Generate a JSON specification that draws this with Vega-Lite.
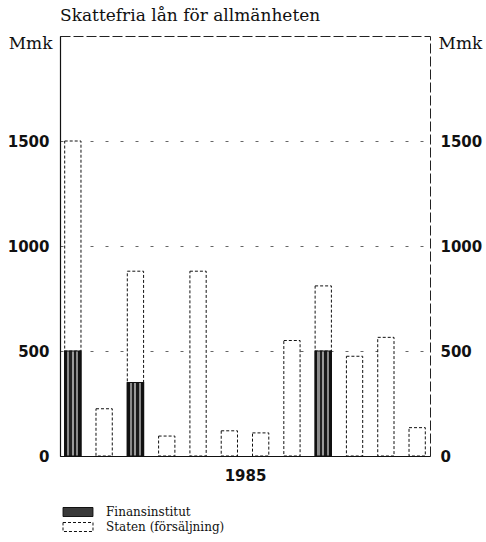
{
  "$schema": "https://vega.github.io/schema/vega-lite/v6.json",
  "autosize": "none",
  "width": 370,
  "height": 420,
  "padding": {"left": 60, "top": 36, "right": 56, "bottom": 86},
  "background": "white",
  "title": {
    "text": "Skattefria lån för allmänheten",
    "anchor": "start",
    "frame": "group",
    "font": "DejaVu Serif",
    "fontSize": 17,
    "fontWeight": "normal",
    "color": "#111",
    "baseline": "alphabetic",
    "offset": -4
  },
  "config": {
    "view": {"stroke": "#222", "strokeWidth": 1, "strokeDash": [10, 3]}
  },
  "data": {
    "values": [
      {"manad": 1, "serie": "Finansinstitut", "mmk": 500},
      {"manad": 1, "serie": "Staten (försäljning)", "mmk": 1000},
      {"manad": 2, "serie": "Staten (försäljning)", "mmk": 225},
      {"manad": 3, "serie": "Finansinstitut", "mmk": 350},
      {"manad": 3, "serie": "Staten (försäljning)", "mmk": 530},
      {"manad": 4, "serie": "Staten (försäljning)", "mmk": 95},
      {"manad": 5, "serie": "Staten (försäljning)", "mmk": 880},
      {"manad": 6, "serie": "Staten (försäljning)", "mmk": 120},
      {"manad": 7, "serie": "Staten (försäljning)", "mmk": 110},
      {"manad": 8, "serie": "Staten (försäljning)", "mmk": 550},
      {"manad": 9, "serie": "Finansinstitut", "mmk": 500},
      {"manad": 9, "serie": "Staten (försäljning)", "mmk": 310},
      {"manad": 10, "serie": "Staten (försäljning)", "mmk": 475},
      {"manad": 11, "serie": "Staten (försäljning)", "mmk": 565},
      {"manad": 12, "serie": "Staten (försäljning)", "mmk": 135}
    ]
  },
  "encoding": {
    "x": {
      "field": "manad",
      "type": "ordinal",
      "scale": {"paddingInner": 0.48, "paddingOuter": 0.15},
      "axis": {
        "labels": false,
        "ticks": false,
        "domain": true,
        "domainColor": "#111",
        "domainWidth": 1.2,
        "title": "1985",
        "titleFont": "DejaVu Sans",
        "titleFontWeight": "bold",
        "titleFontSize": 15,
        "titleColor": "#111",
        "titlePadding": 12
      }
    }
  },
  "layer": [
    {
      "mark": {"type": "bar", "stroke": "#111", "strokeWidth": 1},
      "encoding": {
        "y": {
          "field": "mmk",
          "type": "quantitative",
          "stack": "zero",
          "scale": {"domain": [0, 2000], "nice": false},
          "axis": {
            "orient": "left",
            "values": [0, 500, 1000, 1500],
            "format": "d",
            "ticks": false,
            "domain": true,
            "domainColor": "#111",
            "domainWidth": 1.2,
            "labelFont": "DejaVu Sans",
            "labelFontWeight": "bold",
            "labelFontSize": 15,
            "labelColor": "#111",
            "labelPadding": 11,
            "grid": true,
            "gridColor": "#666",
            "gridDash": [3, 12],
            "gridWidth": 1,
            "title": "Mmk",
            "titleAngle": 0,
            "titleX": -8,
            "titleY": 12,
            "titleAlign": "right",
            "titleBaseline": "alphabetic",
            "titleFont": "DejaVu Serif",
            "titleFontSize": 17,
            "titleFontWeight": "normal",
            "titleColor": "#111"
          }
        },
        "order": {"field": "serie", "sort": "ascending"},
        "fill": {
          "field": "serie",
          "type": "nominal",
          "scale": {"domain": ["Finansinstitut", "Staten (försäljning)"], "range": ["#3a3a3a", "#ffffff"]},
          "legend": {
            "orient": "none",
            "legendX": 12,
            "legendY": 470,
            "title": null,
            "padding": 0,
            "symbolType": "M-3.33,-1H3.33V1H-3.33Z",
            "symbolSize": 81,
            "symbolStrokeColor": "#111",
            "symbolStrokeWidth": 1,
            "labelFont": "DejaVu Serif",
            "labelFontSize": 12,
            "labelColor": "#111",
            "labelOffset": 22,
            "rowPadding": 1
          }
        },
        "strokeDash": {
          "field": "serie",
          "type": "nominal",
          "scale": {"domain": ["Finansinstitut", "Staten (försäljning)"], "range": [[1, 0], [3, 2]]}
        }
      }
    },
    {
      "transform": [{"filter": "datum.serie === 'Finansinstitut'"}],
      "mark": {
        "type": "bar",
        "stroke": "#111",
        "strokeWidth": 1.2,
        "fill": {
          "gradient": "linear",
          "x1": 0, "y1": 0, "x2": 1, "y2": 0,
          "stops": [
            {"offset": 0, "color": "#111111"},
            {"offset": 0.14, "color": "#111111"},
            {"offset": 0.14, "color": "#8a8a8a"},
            {"offset": 0.28, "color": "#8a8a8a"},
            {"offset": 0.28, "color": "#222222"},
            {"offset": 0.42, "color": "#222222"},
            {"offset": 0.42, "color": "#9a9a9a"},
            {"offset": 0.56, "color": "#9a9a9a"},
            {"offset": 0.56, "color": "#1a1a1a"},
            {"offset": 0.70, "color": "#1a1a1a"},
            {"offset": 0.70, "color": "#8a8a8a"},
            {"offset": 0.84, "color": "#8a8a8a"},
            {"offset": 0.84, "color": "#111111"},
            {"offset": 1, "color": "#111111"}
          ]
        }
      },
      "encoding": {
        "y": {
          "field": "mmk",
          "type": "quantitative",
          "stack": null,
          "scale": {"domain": [0, 2000], "nice": false},
          "axis": null
        }
      }
    },
    {
      "mark": {"type": "bar", "opacity": 0},
      "encoding": {
        "y": {
          "field": "mmk",
          "type": "quantitative",
          "stack": "zero",
          "scale": {"domain": [0, 2000], "nice": false},
          "axis": {
            "orient": "right",
            "values": [0, 500, 1000, 1500],
            "format": "d",
            "ticks": false,
            "domain": false,
            "grid": false,
            "labelFont": "DejaVu Sans",
            "labelFontWeight": "bold",
            "labelFontSize": 15,
            "labelColor": "#111",
            "labelPadding": 10,
            "title": "Mmk",
            "titleAngle": 0,
            "titleX": 8,
            "titleY": 12,
            "titleAlign": "left",
            "titleBaseline": "alphabetic",
            "titleFont": "DejaVu Serif",
            "titleFontSize": 17,
            "titleFontWeight": "normal",
            "titleColor": "#111"
          }
        }
      }
    }
  ],
  "resolve": {"axis": {"y": "independent"}}
}
